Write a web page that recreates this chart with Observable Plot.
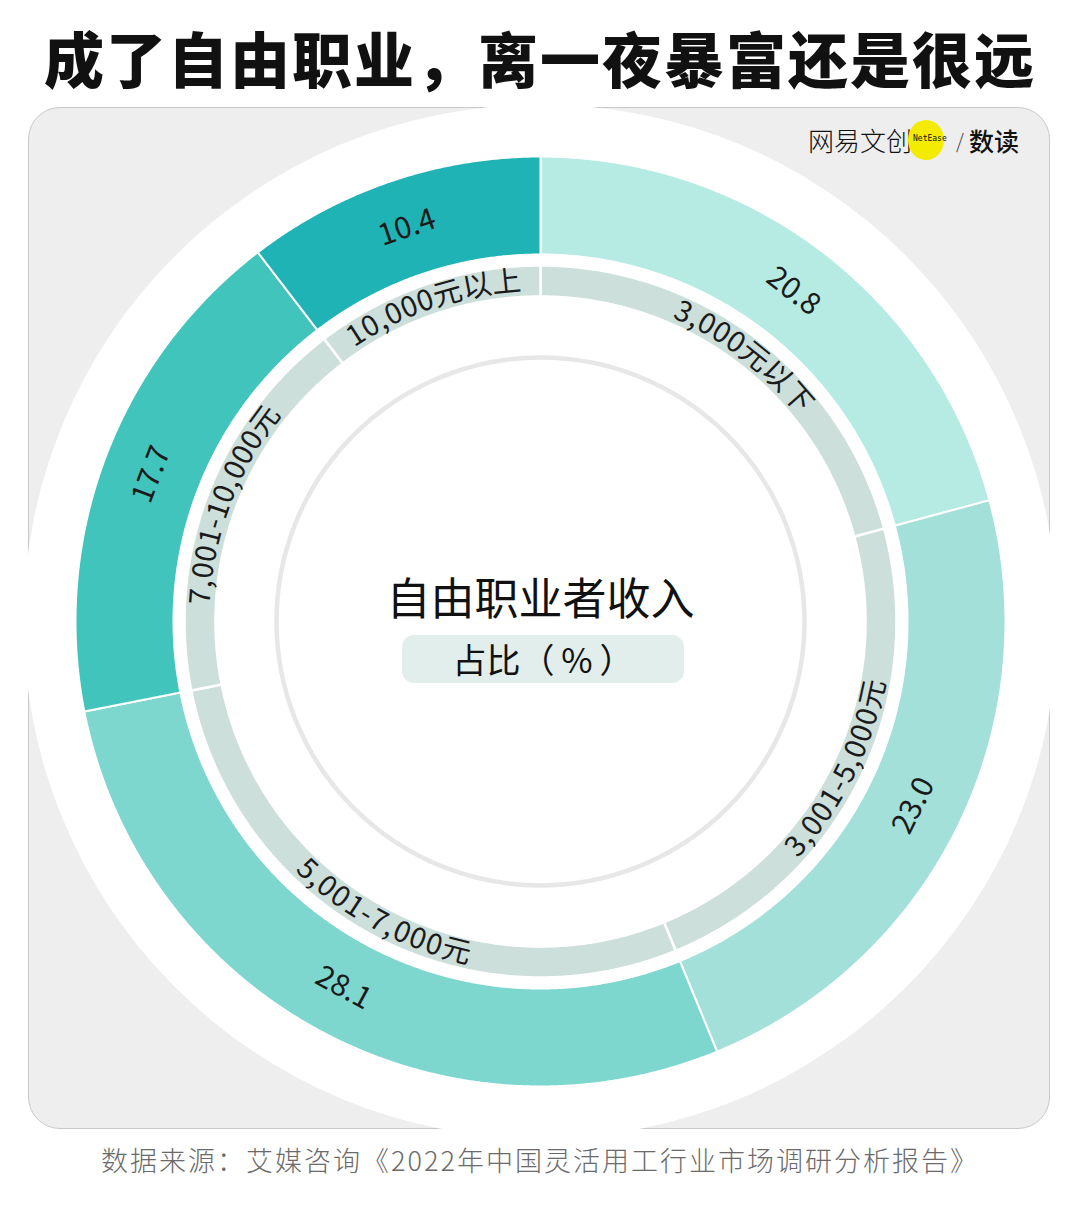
<!DOCTYPE html>
<html>
<head>
<meta charset="utf-8">
<script src="https://cdn.jsdelivr.net/npm/d3@7"></script>
<script src="https://cdn.jsdelivr.net/npm/@observablehq/plot@0.6"></script>
<style>
  html, body { margin: 0; padding: 0; background: #ffffff; }
  #wrap { position: relative; width: 1080px; height: 1215px; overflow: hidden; font-family: 'Noto Sans CJK SC', sans-serif; color: #111; }
  #title { position: absolute; left: 0; top: 20px; width: 1080px; text-align: center; font-size: 60px; font-weight: 900; letter-spacing: 2px; line-height: 74px; }
  #panel { position: absolute; left: 28px; top: 107px; width: 1020px; height: 1020px; background: #eeeeee; border: 1px solid #c9c9c9; border-radius: 32px; z-index: 0; }
  #chart { position: absolute; left: 0; top: 96px; z-index: 1; }
  #pill { position: absolute; left: 402px; top: 635px; width: 282px; height: 48px; border-radius: 12px; background: #e1eeeb; text-align: center; font-size: 34px; line-height: 48px; z-index: 2; }
  #logo { position: absolute; left: 808px; top: 120px; height: 40px; z-index: 2; }
  #logo span { position: absolute; white-space: nowrap; }
  #source { position: absolute; left: 0; top: 1142px; width: 1080px; text-align: center; font-size: 27px; letter-spacing: 2px; line-height: 36px; color: #6a6a6a; font-weight: 300; }
</style>
</head>
<body>
<div id="wrap">
  <div id="title">成了自由职业，离一夜暴富还是很远</div>
  <div id="panel"></div>
  <div id="chart"></div>
  <div id="logo">
    <span style="left:0px;top:4px;font-size:26px;line-height:32px;font-weight:300;">网易文创</span>
    <span style="left:100px;top:0px;width:36px;height:40px;border-radius:50%;background:#f4ec00;"></span>
    <span style="left:105px;top:14px;font-size:8px;line-height:10px;font-family:'DejaVu Sans Mono',monospace;">NetEase</span>
    <span style="left:148px;top:6px;font-size:20px;line-height:30px;font-weight:300;color:#444;">/</span>
    <span style="left:161px;top:4px;font-size:25px;line-height:32px;font-weight:500;">数读</span>
  </div>
  <div id="pill">占比（&#8201;%&#8201;）</div>
  <div id="source">数据来源：艾媒咨询《2022年中国灵活用工行业市场调研分析报告》</div>
</div>
<script>
// ---- data ----
const categories = ["3,000元以下", "3,001-5,000元", "5,001-7,000元", "7,001-10,000元", "10,000元以上"];
const shares = [20.8, 23.0, 28.1, 17.7, 10.4];
const centerTitle = ["自由职业者收入"];

// ---- styling ----
const palette = ["#b6ebe4", "#a2e0d9", "#7ed7cf", "#41c4bc", "#1fb3b5"];
const FONT = "'Noto Sans CJK SC', sans-serif";
const W = 1080, H = 1050;
const R_OUT1 = 465, R_OUT0 = 367;      // outer value ring
const R_LAB1 = 356, R_LAB0 = 325;      // grey label ring
const R_LINE = 264;                    // inner thin circle
const R_HALO = 517;                    // white disk

const total = d3.sum(shares);
let acc = 0;
const segs = categories.map((c, i) => {
  const a0 = acc / total * 2 * Math.PI;
  acc += shares[i];
  const a1 = acc / total * 2 * Math.PI;
  return {cat: c, value: shares[i], a0, a1, am: (a0 + a1) / 2};
});

function ring(r0, r1) {
  const pts = [];
  for (const s of segs) {
    const n = Math.max(2, Math.ceil((s.a1 - s.a0) / (Math.PI / 720)));
    const outer = [], inner = [];
    for (let k = 0; k <= n; k++) {
      const a = s.a0 + (s.a1 - s.a0) * k / n;
      outer.push({cat: s.cat, x: r1 * Math.sin(a), y: r1 * Math.cos(a)});
      inner.push({cat: s.cat, x: r0 * Math.sin(a), y: r0 * Math.cos(a)});
    }
    pts.push(...outer, ...inner.reverse(), outer[0]);
  }
  return pts;
}

const ctx = document.createElement("canvas").getContext("2d");
function arcChars(text, am, r, size, spacing) {
  ctx.font = `${size}px ${FONT}`;
  const chars = Array.from(text);
  const ws = chars.map(ch => ctx.measureText(ch).width + spacing);
  const L = d3.sum(ws) - spacing;
  const flip = Math.cos(am) < 0;
  let cum = 0;
  return chars.map((ch, i) => {
    const off = (cum + (ws[i] - spacing) / 2 - L / 2) / r;
    cum += ws[i];
    const a = flip ? am - off : am + off;
    const deg = a * 180 / Math.PI;
    return {ch, x: r * Math.sin(a), y: r * Math.cos(a), rotate: flip ? deg - 180 : deg};
  });
}

const labelChars = segs.flatMap(s => arcChars(s.cat, s.am, (R_LAB0 + R_LAB1) / 2, 29, 1));
const valueLabels = segs.map(s => {
  const r = (R_OUT0 + R_OUT1) / 2;
  const deg = s.am * 180 / Math.PI;
  return {text: s.value.toFixed(1), x: r * Math.sin(s.am), y: r * Math.cos(s.am),
          rotate: Math.cos(s.am) < 0 ? deg - 180 : deg};
});
const origin = [{x: 0, y: 0}];

const chart = Plot.plot({
  width: W, height: H, margin: 0,
  x: {domain: [-W / 2, W / 2], axis: null},
  y: {domain: [-H / 2, H / 2], axis: null},
  color: {domain: categories, range: palette},
  style: {background: "transparent", fontFamily: FONT, overflow: "visible"},
  marks: [
    Plot.dot(origin, {x: "x", y: "y", r: R_HALO, fill: "white", stroke: "none"}),
    Plot.line(ring(R_OUT0, R_OUT1), {x: "x", y: "y", z: "cat", fill: "cat", stroke: "white", strokeWidth: 2, curve: "linear"}),
    Plot.line(ring(R_LAB0, R_LAB1), {x: "x", y: "y", z: "cat", fill: "#cddfdb", stroke: "white", strokeWidth: 2.5, curve: "linear"}),
    Plot.dot(origin, {x: "x", y: "y", r: R_LINE, fill: "none", stroke: "#e7e7e7", strokeWidth: 4.5}),
    Plot.text(valueLabels, {x: "x", y: "y", text: "text", rotate: "rotate", fontSize: 30, fill: "#1a1a1a", letterSpacing: 1}),
    Plot.text(labelChars, {x: "x", y: "y", text: "ch", rotate: "rotate", fontSize: 29, fill: "#1a1a1a"}),
    Plot.text(centerTitle, {frameAnchor: "middle", dy: -21, fontSize: 44, fontWeight: 400, letterSpacing: 1, fill: "#111"})
  ]
});
document.getElementById("chart").appendChild(chart);
</script>
</body>
</html>
